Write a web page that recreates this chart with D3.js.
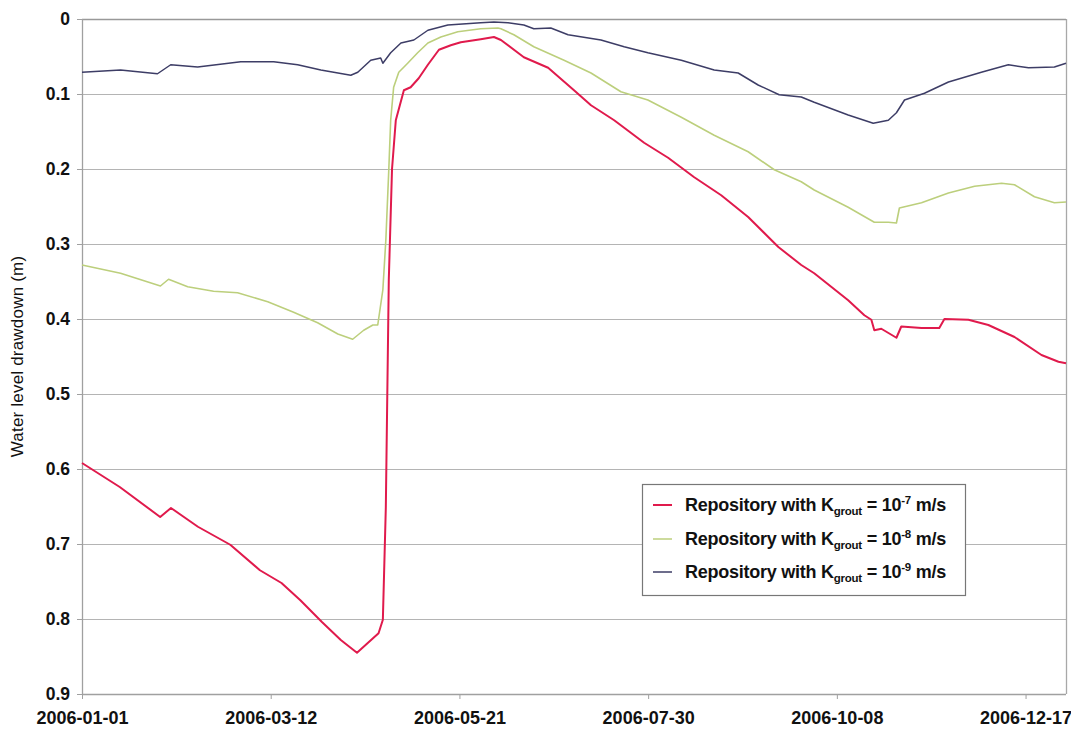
<!DOCTYPE html>
<html>
<head>
<meta charset="utf-8">
<script src="https://cdn.jsdelivr.net/npm/d3@7"></script>
<style>
  html, body { margin: 0; padding: 0; background: #fff; }
  svg { display: block; font-family: "Liberation Sans", Arial, sans-serif; }
</style>
</head>
<body>
<svg id="chart" width="1071" height="730"></svg>
<script>
// ---- Data (days since 2006-01-01, drawdown in m) ----
const startDate = "2006-01-01";
const endDate = "2007-01-01";

const redDays = [0, 14, 29, 33, 43, 55, 66, 74, 81, 89, 96, 102, 106, 110, 111.6, 112.7, 113.8, 115, 116.4, 119.4, 121.9, 124.9, 128.3, 132.4, 136.8, 140.5, 147.9, 152.8, 155.4, 163.9, 172.9, 182.5, 188.8, 197.4, 208.5, 217.4, 227.1, 237.1, 247.1, 258.3, 266.8, 271.6, 284.2, 290.2, 292.8, 293.9, 296.5, 302.1, 303.9, 311.4, 318, 319.9, 328.8, 336.2, 345.9, 355.9, 362.2, 365];
const redValues = [0.592, 0.624, 0.664, 0.652, 0.677, 0.701, 0.735, 0.752, 0.775, 0.804, 0.828, 0.845, 0.832, 0.819, 0.801, 0.651, 0.348, 0.2, 0.135, 0.095, 0.091, 0.079, 0.061, 0.041, 0.035, 0.031, 0.027, 0.024, 0.028, 0.051, 0.065, 0.095, 0.115, 0.135, 0.165, 0.185, 0.211, 0.235, 0.264, 0.304, 0.328, 0.339, 0.375, 0.395, 0.401, 0.415, 0.413, 0.425, 0.41, 0.412, 0.412, 0.4, 0.401, 0.408, 0.424, 0.448, 0.457, 0.459];

const greenDays = [0, 14.3, 29.1, 32.1, 39.2, 48.8, 57.7, 68.9, 78.5, 87.4, 94.9, 100.4, 104.5, 107.9, 109.7, 111.6, 112.7, 113.8, 114.5, 115.6, 117.5, 120.8, 124.5, 128.3, 133.1, 139.4, 147.9, 154.3, 155.4, 160.2, 167.6, 178.8, 188.8, 199.9, 209.9, 222.3, 234.5, 247.1, 256.8, 266.8, 271.6, 284.2, 293.9, 299.1, 302.1, 303.2, 311.4, 321.4, 331.1, 341.1, 345.9, 353.3, 360.7, 365];
const greenValues = [0.328, 0.339, 0.356, 0.347, 0.357, 0.363, 0.365, 0.377, 0.391, 0.405, 0.42, 0.427, 0.415, 0.408, 0.408, 0.361, 0.295, 0.201, 0.135, 0.091, 0.071, 0.059, 0.045, 0.032, 0.024, 0.017, 0.013, 0.012, 0.013, 0.021, 0.037, 0.055, 0.072, 0.097, 0.108, 0.131, 0.155, 0.177, 0.201, 0.217, 0.228, 0.251, 0.271, 0.271, 0.272, 0.252, 0.245, 0.232, 0.223, 0.219, 0.221, 0.237, 0.245, 0.244];

const blueDays = [0, 14.3, 28, 32.9, 42.9, 58.9, 71.1, 80, 88.6, 99.7, 102.3, 107.1, 110.8, 111.6, 114.5, 118.3, 123.1, 128.3, 135.7, 147.9, 152.8, 158, 163.9, 167.6, 173.9, 180.3, 192.5, 201.1, 209.9, 222.3, 234.5, 243.4, 250.8, 258.6, 266.8, 271.6, 284.2, 293.5, 299.1, 302.1, 305.1, 312.5, 321.4, 333.6, 343.6, 351.1, 360.7, 365];
const blueValues = [0.071, 0.068, 0.073, 0.061, 0.064, 0.057, 0.057, 0.061, 0.068, 0.075, 0.071, 0.055, 0.052, 0.059, 0.045, 0.032, 0.028, 0.015, 0.008, 0.005, 0.004, 0.005, 0.008, 0.013, 0.012, 0.021, 0.028, 0.037, 0.045, 0.055, 0.068, 0.072, 0.088, 0.101, 0.104, 0.111, 0.128, 0.139, 0.135, 0.125, 0.108, 0.099, 0.084, 0.071, 0.061, 0.065, 0.064, 0.059];

const xTickLabels = ["2006-01-01", "2006-03-12", "2006-05-21", "2006-07-30", "2006-10-08", "2006-12-17"];
const yTickValues = [0, 0.1, 0.2, 0.3, 0.4, 0.5, 0.6, 0.7, 0.8, 0.9];
const seriesNames = ["-7", "-8", "-9"];
const seriesColors = ["#e01a4c", "#bccf7c", "#3d3d66"];
const yTitle = "Water level drawdown (m)";

// ---- Layout ----
const svg = d3.select("#chart");
const pLeft = 82, pRight = 1066, pTop = 19, pBottom = 694;
const parse = d3.utcParse("%Y-%m-%d");
const t0 = parse(startDate);
const toDate = d => new Date(t0.getTime() + d * 86400000);

const x = d3.scaleUtc().domain([t0, parse(endDate)]).range([pLeft, pRight]);
const y = d3.scaleLinear().domain([0, 0.9]).range([pTop, pBottom]);

// gridlines
svg.append("g").selectAll("line").data(yTickValues).join("line")
  .attr("x1", pLeft).attr("x2", pRight)
  .attr("y1", d => y(d) + 0.5).attr("y2", d => y(d) + 0.5)
  .attr("stroke", "#b4b4b4").attr("stroke-width", 1.2);

// plot border (right & top)
svg.append("line").attr("x1", pRight + 0.5).attr("x2", pRight + 0.5).attr("y1", pTop).attr("y2", pBottom)
  .attr("stroke", "#a8a8a8").attr("stroke-width", 1.3);
svg.append("line").attr("x1", pLeft).attr("x2", pRight).attr("y1", pTop + 0.5).attr("y2", pTop + 0.5)
  .attr("stroke", "#999").attr("stroke-width", 1.5);

// axes
const yAxis = svg.append("g").attr("transform", `translate(${pLeft},0)`)
  .call(d3.axisLeft(y).tickValues(yTickValues).tickSize(5).tickPadding(7)
    .tickFormat(d => d === 0 ? "0" : d3.format(".1f")(d)));
const xTicks = xTickLabels.map(parse);
const xAxis = svg.append("g").attr("transform", `translate(0,${pBottom})`)
  .call(d3.axisBottom(x).tickValues(xTicks).tickSize(5).tickPadding(12)
    .tickFormat(d3.utcFormat("%Y-%m-%d")));
[yAxis, xAxis].forEach(g => {
  g.selectAll(".domain").attr("stroke", "#a0a0a0").attr("stroke-width", 1.3);
  g.selectAll(".tick line").attr("stroke", "#a0a0a0");
  g.selectAll("text").attr("fill", "#111").attr("font-size", 17.5).attr("font-weight", "bold")
    .attr("font-family", "Liberation Sans, Arial, sans-serif");
});
xAxis.selectAll("text").attr("font-size", 18);
xAxis.select(".domain").attr("d", `M${pLeft},0.5H${pRight}`);
yAxis.select(".domain").attr("d", `M0.5,${pTop}V${pBottom}`);

// y title
svg.append("text").attr("transform", `translate(23,${(pTop + pBottom) / 2}) rotate(-90)`)
  .attr("text-anchor", "middle").attr("font-size", 17).attr("fill", "#111")
  .attr("letter-spacing", 0.2)
  .text(yTitle);

// lines
const line = d3.line().x(d => x(toDate(d[0]))).y(d => y(d[1]));
const series = [
  { days: greenDays, values: greenValues, color: seriesColors[1], w: 1.6 },
  { days: blueDays, values: blueValues, color: seriesColors[2], w: 1.5 },
  { days: redDays, values: redValues, color: seriesColors[0], w: 2 }
];
series.forEach(s => {
  svg.append("path").datum(d3.zip(s.days, s.values))
    .attr("fill", "none").attr("stroke", s.color).attr("stroke-width", s.w)
    .attr("stroke-linejoin", "round").attr("d", line);
});

// legend
const lg = svg.append("g");
lg.append("rect").attr("x", 642.5).attr("y", 484.5).attr("width", 323).attr("height", 111)
  .attr("fill", "#fff").attr("stroke", "#777").attr("stroke-width", 1.2);
const legendY = [505, 539, 572];
seriesNames.forEach((nm, i) => {
  lg.append("line").attr("x1", 653).attr("x2", 672).attr("y1", legendY[i]).attr("y2", legendY[i])
    .attr("stroke", seriesColors[i]).attr("stroke-width", i === 0 ? 2 : 1.5);
  const t = lg.append("text").attr("x", 685).attr("y", legendY[i] + 6)
    .attr("font-size", 18).attr("font-weight", "bold").attr("fill", "#111")
    .attr("letter-spacing", -0.25);
  t.append("tspan").text("Repository with K");
  t.append("tspan").attr("dy", 4).attr("font-size", 11.5).text("grout");
  t.append("tspan").attr("dy", -4).text(" = 10");
  t.append("tspan").attr("dy", -7).attr("font-size", 11.5).text(nm);
  t.append("tspan").attr("dy", 7).text(" m/s");
});
</script>
</body>
</html>
